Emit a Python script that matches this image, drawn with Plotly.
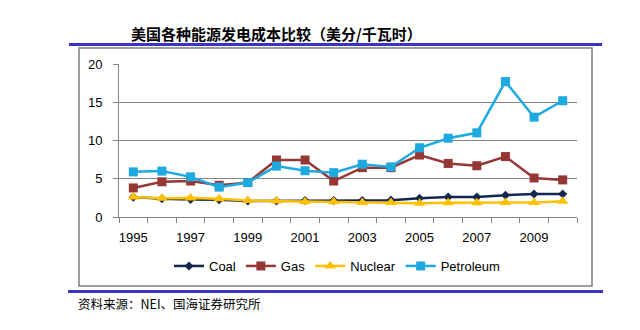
import plotly.graph_objects as go

years = list(range(1995, 2011))
coal = [2.6, 2.4, 2.3, 2.25, 2.1, 2.1, 2.15, 2.15, 2.15, 2.2, 2.45, 2.6, 2.6, 2.85, 3.0, 3.0]
gas = [3.8, 4.6, 4.7, 4.15, 4.5, 7.45, 7.45, 4.7, 6.45, 6.45, 8.1, 7.0, 6.7, 7.9, 5.1, 4.85]
nuclear = [2.6, 2.45, 2.5, 2.4, 2.15, 2.1, 2.0, 2.0, 1.9, 1.9, 1.8, 1.85, 1.85, 1.9, 1.9, 2.05]
petroleum = [5.9, 6.0, 5.25, 3.9, 4.5, 6.65, 6.05, 5.8, 6.9, 6.55, 9.05, 10.3, 11.0, 17.7, 13.05, 15.2]
tick_years = [1995, 1997, 1999, 2001, 2003, 2005, 2007, 2009]

title_text = "美国各种能源发电成本比较（美分/千瓦时）"
source_text = "资料来源：NEI、国海证券研究所"

W, H = 640, 330
L, R, T, B = 119, 577, 64, 217  # plot area in pixels


def px(x):
    return (x - L) / (R - L)


def py(y):
    return (B - y) / (B - T)


fig = go.Figure()
series = [
    ("Coal", coal, "#14284F", "diamond", 7),
    ("Gas", gas, "#953735", "square", 9),
    ("Nuclear", nuclear, "#FFC000", "triangle-up", 10),
    ("Petroleum", petroleum, "#1FA9E1", "square", 9),
]
for name, vals, color, sym, size in series:
    fig.add_trace(go.Scatter(
        x=years, y=vals, name=name, mode="lines+markers",
        line=dict(color=color, width=2.5),
        marker=dict(symbol=sym, size=size, color=color),
    ))

fig.update_layout(
    width=W, height=H,
    margin=dict(l=L, r=W - R, t=T, b=H - B),
    paper_bgcolor="white", plot_bgcolor="white",
    font=dict(family="Liberation Sans, Arial, sans-serif", size=13, color="#000000"),
    showlegend=True,
    legend=dict(orientation="h", x=px(337), xanchor="center", y=py(266), yanchor="middle",
                font=dict(size=13), itemwidth=30, traceorder="normal", bgcolor="rgba(0,0,0,0)"),
    xaxis=dict(range=[1994.5, 2010.5], tickmode="array", tickvals=tick_years,
               ticktext=[str(y) for y in tick_years], ticks="", showgrid=False,
               showline=True, linecolor="#868686", linewidth=1, zeroline=False,
               ticklabelstandoff=8,
               minor=dict(ticks="outside", ticklen=5, tickcolor="#868686",
                          tick0=1994.5, dtick=1, showgrid=False)),
    yaxis=dict(range=[0, 20], dtick=5, tick0=0, showgrid=True, gridcolor="#868686", gridwidth=1,
               showline=True, linecolor="#868686", linewidth=1, zeroline=False,
               ticks="outside", ticklen=5, tickcolor="#868686", ticklabelstandoff=8),
)

# frame box and blue rules
fig.add_shape(type="rect", xref="paper", yref="paper",
              x0=px(79), x1=px(592), y0=py(286), y1=py(48),
              line=dict(color="#7F7F7F", width=1.5), layer="below")
fig.add_shape(type="line", xref="paper", yref="paper",
              x0=px(69), x1=px(602), y0=py(44.5), y1=py(44.5),
              line=dict(color="#3A34C4", width=3))
fig.add_shape(type="line", xref="paper", yref="paper",
              x0=px(68), x1=px(603), y0=py(291.5), y1=py(291.5),
              line=dict(color="#3A34C4", width=3))

fig.add_annotation(text="<b>" + title_text + "</b>", xref="paper", yref="paper",
                   x=px(129), y=py(33), xanchor="left", yanchor="middle", showarrow=False,
                   font=dict(family="Noto Sans CJK SC", size=15, color="#000000"))
fig.add_annotation(text=source_text, xref="paper", yref="paper",
                   x=px(76), y=py(303), xanchor="left", yanchor="middle", showarrow=False,
                   font=dict(family="Noto Sans CJK SC", size=12.5, color="#000000"))

fig.write_html("out.html")
